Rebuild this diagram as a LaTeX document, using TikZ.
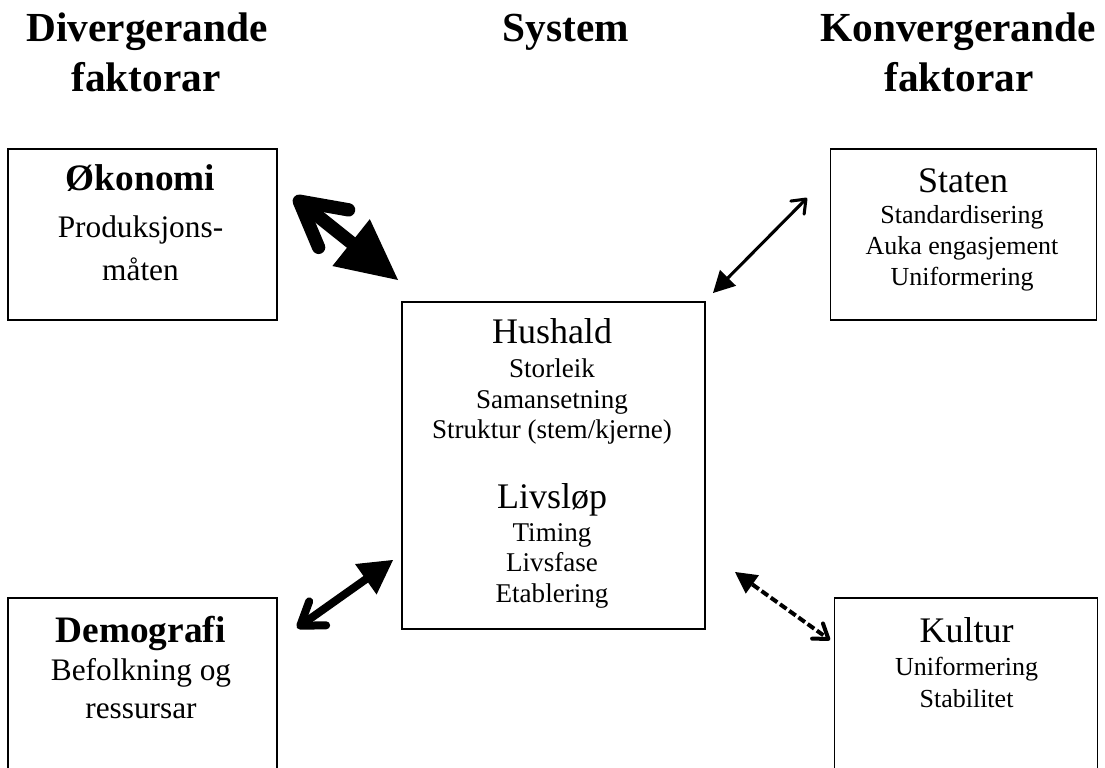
\documentclass[tikz,border=0pt]{standalone}
\usepackage{fontspec}
\setmainfont{Liberation Serif}
\usetikzlibrary{arrows.meta}
\begin{document}
\begin{tikzpicture}[x=0.75pt,y=-0.75pt,
  box/.style={draw, line width=1.4pt, inner sep=0pt},
  title/.style={anchor=base, inner sep=0pt, font=\fontsize{31}{37}\selectfont\bfseries},
  headb/.style={anchor=base, inner sep=0pt, font=\fontsize{28}{32}\selectfont\bfseries},
  head/.style={anchor=base, inner sep=0pt, font=\fontsize{27}{32}\selectfont},
  sub/.style={anchor=base, inner sep=0pt, font=\fontsize{23.5}{28}\selectfont},
  item/.style={anchor=base, inner sep=0pt, font=\fontsize{19.5}{23}\selectfont},
  itemb/.style={anchor=base, inner sep=0pt, font=\fontsize{20.3}{24}\selectfont},
  link/.style={line cap=round}
]
\useasboundingbox (0,0) rectangle (1105,767);
\clip (0,0) rectangle (1105,767);
\fill[white] (0,0) rectangle (1105,767);

% titles
\node[title] (t1a) at (147,42) {Divergerande};
\node[title] (t1b) at (146,91) {faktorar};
\node[title] (t2) at (566,42) {System};
\node[title] (t3a) at (958,42) {Konvergerande};
\node[title] (t3b) at (959,91) {faktorar};

% boxes
\node[box, minimum width=201.75pt, minimum height=128.25pt] (oko) at (142.5,234.5) {};
\node[box, minimum width=227.25pt, minimum height=245.25pt] (hus) at (553.5,465.5) {};
\node[box, minimum width=199.5pt, minimum height=128.25pt] (sta) at (963.5,234.5) {};
\node[box, minimum width=201.75pt, minimum height=151.5pt] (dem) at (142.5,699) {};
\node[box, minimum width=197.25pt, minimum height=151.5pt] (kul) at (966,699) {};

% Økonomi
\node[headb] (okoT) at (140.5,190) {Økonomi};
\node[sub] (oko1) at (140.5,237) {Produksjons-};
\node[sub] (oko2) at (140.5,280) {måten};

% Hushald
\node[head] (husT) at (552,343) {Hushald};
\node[itemb] (hus1) at (552,377) {Storleik};
\node[itemb] (hus2) at (552,408) {Samansetning};
\node[itemb] (hus3) at (552,438) {Struktur (stem/kjerne)};
\node[head] (livT) at (552,508) {Livsløp};
\node[itemb] (liv1) at (552,541) {Timing};
\node[itemb] (liv2) at (552,571) {Livsfase};
\node[itemb] (liv3) at (552,602) {Etablering};

% Staten
\node[head] (staT) at (963,192) {Staten};
\node[item] (sta1) at (962,223) {Standardisering};
\node[item] (sta2) at (962,254) {Auka engasjement};
\node[item] (sta3) at (962,285) {Uniformering};

% Demografi
\node[headb] (demT) at (140.5,642) {Demografi};
\node[sub] (dem1) at (141,680) {Befolkning og};
\node[sub] (dem2) at (141,718) {ressursar};

% Kultur
\node[head] (kulT) at (966.5,642) {Kultur};
\node[item] (kul1) at (966.5,675) {Uniformering};
\node[item] (kul2) at (966.5,707) {Stabilitet};

% arrow end points
\coordinate (a1s) at (294,197);
\coordinate (a1e) at (398,280);
\coordinate (a2s) at (713,293);
\coordinate (a2e) at (807,198);
\coordinate (a3s) at (393,560);
\coordinate (a3e) at (297,628);
\coordinate (a4s) at (735,572);
\coordinate (a4e) at (830,640);

\draw[link, line width=10pt,
  {Straight Barb[round,length=33pt,width=36pt]}-{Triangle[length=45pt,width=45pt,line width=0pt]}]
  (a1s) -- (a1e);
\draw[link, line width=2.3pt,
  {Triangle[length=16pt,width=17pt,line width=0pt]}-{Straight Barb[round,length=9pt,width=14pt]}]
  (a2s) -- (a2e);
\draw[link, line width=6pt,
  {Triangle[length=25pt,width=28pt,line width=0pt]}-{Straight Barb[round,length=16pt,width=22pt]}]
  (a3s) -- (a3e);
\draw[line width=3pt, dash pattern=on 6pt off 2.5pt,
  {Triangle[length=16pt,width=17pt,line width=0pt]}-{Straight Barb[round,length=10pt,width=14pt]}]
  (a4s) -- (a4e);
\end{tikzpicture}
\end{document}
